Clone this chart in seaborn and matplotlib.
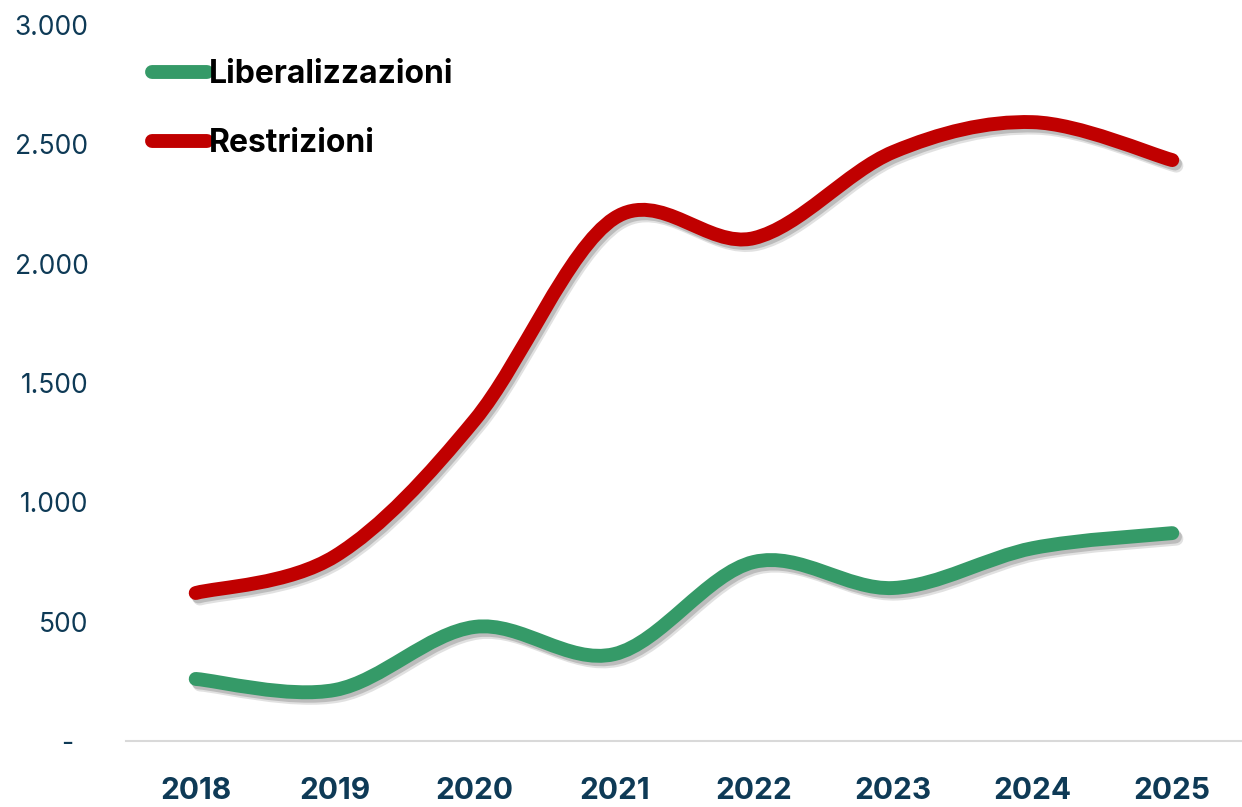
import matplotlib
matplotlib.use("Agg")
import matplotlib.pyplot as plt
import matplotlib.patheffects as pe
from matplotlib.path import Path
from matplotlib.patches import PathPatch
from matplotlib.lines import Line2D
import numpy as np
import seaborn as sns

anni = ["2018", "2019", "2020", "2021", "2022", "2023", "2024", "2025"]
liberalizzazioni = [260, 214, 478, 364, 750, 641, 808, 871]
restrizioni = [620, 775, 1345, 2190, 2107, 2468, 2593, 2434]
y_ticks = [0, 500, 1000, 1500, 2000, 2500, 3000]
y_labels = ["-  ", "500", "1.000", "1.500", "2.000", "2.500", "3.000"]

VERDE = "#359a68"
ROSSO = "#c00000"
TESTO = "#0e3a56"
FONT = ["Inter", "DejaVu Sans"]


def smooth_path(xs, ys):
    # curva di Bezier tipo "linea smussata" di Excel
    pts = np.column_stack([xs, ys]).astype(float)
    n = len(pts)
    verts = [pts[0]]
    codes = [Path.MOVETO]
    for i in range(n - 1):
        p0 = pts[max(i - 1, 0)]
        p1 = pts[i]
        p2 = pts[i + 1]
        p3 = pts[min(i + 2, n - 1)]
        c1 = p1 + (p2 - p0) / 6
        c2 = p2 - (p3 - p1) / 6
        verts += [c1, c2, p2]
        codes += [Path.CURVE4] * 3
    return Path(verts, codes)


sns.set_theme(style="white")
plt.rcParams["font.family"] = FONT

fig = plt.figure(figsize=(12.42, 8.07), dpi=100)
ax = fig.add_axes([0.1014, 0.0818, 0.8986, 0.8872])

x = np.arange(len(anni))
shadow = [pe.SimpleLineShadow(offset=(3, -4), shadow_color="#888888", alpha=0.25),
          pe.SimpleLineShadow(offset=(2, -2.5), shadow_color="#777777", alpha=0.35),
          pe.Normal()]
for vals, col in [(liberalizzazioni, VERDE), (restrizioni, ROSSO)]:
    patch = PathPatch(smooth_path(x, vals), fill=False, edgecolor=col,
                      linewidth=10, capstyle="round", joinstyle="round",
                      path_effects=shadow, zorder=3)
    ax.add_patch(patch)

ax.set_xlim(-0.5, len(anni) - 0.5)
ax.set_ylim(0, 3000)
ax.set_xticks(x)
ax.set_xticklabels(anni, fontsize=21.5, fontweight="bold", color=TESTO)
ax.set_yticks(y_ticks)
ax.set_yticklabels(y_labels, fontsize=19, color=TESTO)
ax.tick_params(axis="x", length=0, pad=26)
ax.tick_params(axis="y", length=0, pad=27)
for lab in ax.get_yticklabels():
    lab.set_horizontalalignment("right")

sns.despine(ax=ax, left=True, top=True, right=True)
ax.spines["bottom"].set_color("#d9d9d9")
ax.spines["bottom"].set_linewidth(1.5)
ax.grid(False)

handles = [Line2D([], [], color=VERDE, linewidth=10, solid_capstyle="round"),
           Line2D([], [], color=ROSSO, linewidth=10, solid_capstyle="round")]
leg = ax.legend(handles, ["Liberalizzazioni", "Restrizioni"],
                loc="upper left", bbox_to_anchor=(0.122, 0.927),
                bbox_transform=fig.transFigure, frameon=False,
                prop={"family": FONT, "weight": "bold", "size": 23},
                handlelength=1.75, handletextpad=0.06, labelspacing=1.2,
                borderaxespad=0, borderpad=0)
for t in leg.get_texts():
    t.set_color("black")

fig.savefig("out.png", dpi=100)
